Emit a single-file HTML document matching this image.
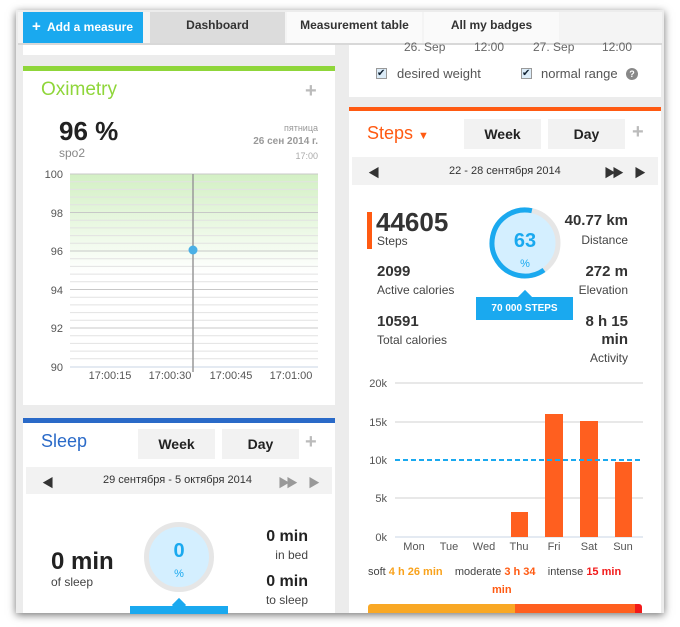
<!DOCTYPE html>
<html><head><meta charset="utf-8"><style>
*{margin:0;padding:0;box-sizing:border-box}
body{width:680px;height:627px;background:#fff;position:relative;overflow:hidden;font-family:"Liberation Sans","Noto Sans CJK SC",sans-serif;color:#333}
.a{position:absolute}
.frame{left:16px;top:10px;width:648px;height:603px;background:#ececec;box-shadow:0 2px 8px rgba(0,0,0,.55);overflow:hidden}
.card{background:#fff}
.btn{background:#f2f2f2;font-weight:bold;font-size:14px;text-align:center;color:#222}
.r{text-align:right}
.nav{font-weight:bold;font-size:12px;line-height:27px;text-align:center;white-space:nowrap}
</style></head><body>
<div class="a frame"></div>
<div class="a" style="left:18px;top:12px;width:644px;height:31px;background:#f4f4f4"></div>
<div class="a" style="left:23px;top:12px;width:120px;height:31px;background:#1aa9ef;color:#fff;font-weight:bold;font-size:12px;line-height:29px;padding-left:9px;white-space:nowrap"><span style="font-size:15px">+</span>&nbsp; Add a measure</div>
<div class="a nav" style="left:150px;top:12px;width:135px;height:31px;background:#dcdcdc">Dashboard</div>
<div class="a nav" style="left:287px;top:12px;width:135px;height:31px;background:#fafafa">Measurement table</div>
<div class="a nav" style="left:424px;top:12px;width:135px;height:31px;background:#fafafa">All my badges</div>
<div class="a" style="left:18px;top:43px;width:644px;height:2px;background:#d8d8d8"></div>

<div class="a card" style="left:23px;top:45px;width:312px;height:10px"></div>
<div class="a" style="left:23px;top:66px;width:312px;height:5px;background:#8fd63a"></div>
<div class="a card" style="left:23px;top:71px;width:312px;height:334px"></div>
<div class="a" style="left:41px;top:79px;font-size:19px;color:#8fd63a">Oximetry</div>
<div class="a" style="left:305px;top:80px;font-size:20px;color:#bbb;font-weight:bold">+</div>
<div class="a" style="left:59px;top:116px;font-size:26px;font-weight:bold;color:#222">96 %</div>
<div class="a" style="left:59px;top:146px;font-size:12px;color:#888">spo2</div>
<div class="a r" style="left:220px;top:123px;width:98px;font-size:9px;color:#999">пятница</div>
<div class="a r" style="left:200px;top:136px;width:118px;font-size:10px;color:#999;font-weight:bold">26 сен 2014 г.</div>
<div class="a r" style="left:220px;top:151px;width:98px;font-size:9px;color:#aaa">17:00</div>
<svg class="a" style="left:23px;top:160px" width="312" height="230">
<defs><linearGradient id="g" x1="0" y1="0" x2="0" y2="1"><stop offset="0" stop-color="#d3f0c4"/><stop offset="1" stop-color="#fff"/></linearGradient></defs>
<rect x="47" y="14" width="248" height="100" fill="url(#g)"/>
<g stroke="#e2e2e2" stroke-width="1">
<line x1="47" x2="295" y1="21.7" y2="21.7"/><line x1="47" x2="295" y1="29.4" y2="29.4"/><line x1="47" x2="295" y1="37.1" y2="37.1"/><line x1="47" x2="295" y1="44.8" y2="44.8"/>
<line x1="47" x2="295" y1="60.2" y2="60.2"/><line x1="47" x2="295" y1="67.9" y2="67.9"/><line x1="47" x2="295" y1="75.6" y2="75.6"/><line x1="47" x2="295" y1="83.3" y2="83.3"/>
<line x1="47" x2="295" y1="98.7" y2="98.7"/><line x1="47" x2="295" y1="106.4" y2="106.4"/><line x1="47" x2="295" y1="114.1" y2="114.1"/><line x1="47" x2="295" y1="121.8" y2="121.8"/>
<line x1="47" x2="295" y1="137.2" y2="137.2"/><line x1="47" x2="295" y1="144.9" y2="144.9"/><line x1="47" x2="295" y1="152.6" y2="152.6"/><line x1="47" x2="295" y1="160.3" y2="160.3"/>
<line x1="47" x2="295" y1="175.7" y2="175.7"/><line x1="47" x2="295" y1="183.4" y2="183.4"/><line x1="47" x2="295" y1="191.1" y2="191.1"/><line x1="47" x2="295" y1="198.8" y2="198.8"/>
</g>
<g stroke="#c8c8c8" stroke-width="1">
<line x1="47" x2="295" y1="14" y2="14"/><line x1="47" x2="295" y1="52.5" y2="52.5"/><line x1="47" x2="295" y1="91" y2="91"/><line x1="47" x2="295" y1="129.5" y2="129.5"/><line x1="47" x2="295" y1="168" y2="168"/></g>
<line x1="47" x2="295" y1="207" y2="207" stroke="#c8d4e4"/>
<line x1="170" x2="170" y1="14" y2="212" stroke="#999" stroke-width="1.5"/>
<circle cx="170" cy="90" r="4.5" fill="#4ab0e6"/>
<g font-size="11" fill="#555" text-anchor="end" font-family="Liberation Sans">
<text x="40" y="18">100</text><text x="40" y="57">98</text><text x="40" y="95">96</text><text x="40" y="134">94</text><text x="40" y="172">92</text><text x="40" y="211">90</text></g>
<g font-size="11" fill="#555" text-anchor="middle" font-family="Liberation Sans">
<text x="87" y="219">17:00:15</text><text x="147" y="219">17:00:30</text><text x="208" y="219">17:00:45</text><text x="268" y="219">17:01:00</text></g>
</svg>

<div class="a" style="left:23px;top:418px;width:312px;height:5px;background:#2a6ac8"></div>
<div class="a card" style="left:23px;top:423px;width:312px;height:190px"></div>
<div class="a" style="left:41px;top:431px;font-size:18px;color:#2a6ac8">Sleep</div>
<div class="a btn" style="left:138px;top:429px;width:77px;height:30px;line-height:30px">Week</div>
<div class="a btn" style="left:222px;top:429px;width:77px;height:30px;line-height:30px">Day</div>
<div class="a" style="left:305px;top:431px;font-size:20px;color:#bbb;font-weight:bold">+</div>
<div class="a" style="left:26px;top:467px;width:306px;height:27px;background:#f2f2f2"></div>
<div class="a" style="left:42px;top:474px;font-size:12px">◀</div>
<div class="a" style="left:103px;top:474px;font-size:11px">29 сентября - 5 октября 2014</div>
<div class="a" style="left:278px;top:474px;font-size:12px;color:#999;letter-spacing:-4px">▶▶</div>
<div class="a" style="left:308px;top:474px;font-size:12px;color:#999">▶</div>
<div class="a" style="left:144px;top:522px;width:70px;height:70px;border-radius:50%;border:5px solid #e6e6e6;background:#d4efff"></div>
<div class="a" style="left:144px;top:540px;width:70px;text-align:center;font-size:20px;font-weight:bold;color:#1aa9ef">0</div>
<div class="a" style="left:144px;top:568px;width:70px;text-align:center;font-size:11px;color:#1aa9ef">%</div>
<div class="a" style="left:174px;top:600px;width:10px;height:10px;background:#1aa9ef;transform:rotate(45deg)"></div>
<div class="a" style="left:130px;top:606px;width:98px;height:8px;background:#1aa9ef"></div>
<div class="a" style="left:51px;top:548px;font-size:24px;font-weight:bold;color:#222">0 min</div>
<div class="a" style="left:51px;top:575px;font-size:12px;color:#444">of sleep</div>
<div class="a r" style="left:230px;top:528px;width:78px;font-size:16px;font-weight:bold;color:#222">0 min</div>
<div class="a r" style="left:230px;top:548px;width:78px;font-size:12px;color:#444">in bed</div>
<div class="a r" style="left:230px;top:573px;width:78px;font-size:16px;font-weight:bold;color:#222">0 min</div>
<div class="a r" style="left:230px;top:593px;width:78px;font-size:12px;color:#444">to sleep</div>

<div class="a card" style="left:349px;top:45px;width:312px;height:52px"></div>
<div class="a" style="left:404px;top:40px;font-size:12px;color:#666">26. Sep</div>
<div class="a" style="left:474px;top:40px;font-size:12px;color:#666">12:00</div>
<div class="a" style="left:533px;top:40px;font-size:12px;color:#666">27. Sep</div>
<div class="a" style="left:602px;top:40px;font-size:12px;color:#666">12:00</div>
<div class="a" style="left:376px;top:68px;width:11px;height:11px;border:1px solid #999;background:#dcecf8;font-size:10px;line-height:9px;color:#123">✔</div>
<div class="a" style="left:397px;top:66px;font-size:13px;color:#555">desired weight</div>
<div class="a" style="left:521px;top:68px;width:11px;height:11px;border:1px solid #999;background:#dcecf8;font-size:10px;line-height:9px;color:#123">✔</div>
<div class="a" style="left:541px;top:66px;font-size:13px;color:#555">normal range</div>
<div class="a" style="left:626px;top:68px;width:12px;height:12px;border-radius:50%;background:#888;color:#fff;font-size:9px;font-weight:bold;text-align:center;line-height:12px">?</div>

<div class="a" style="left:349px;top:107px;width:312px;height:4px;background:#ff5a12"></div>
<div class="a card" style="left:349px;top:111px;width:312px;height:502px"></div>
<div class="a" style="left:367px;top:123px;font-size:18px;color:#ff5a12">Steps <span style="font-size:11px">▼</span></div>
<div class="a btn" style="left:464px;top:119px;width:77px;height:30px;line-height:30px">Week</div>
<div class="a btn" style="left:548px;top:119px;width:77px;height:30px;line-height:30px">Day</div>
<div class="a" style="left:632px;top:121px;font-size:20px;color:#bbb;font-weight:bold">+</div>
<div class="a" style="left:352px;top:157px;width:306px;height:28px;background:#f2f2f2"></div>
<div class="a" style="left:368px;top:164px;font-size:12px">◀</div>
<div class="a" style="left:449px;top:165px;font-size:11px">22 - 28 сентября 2014</div>
<div class="a" style="left:604px;top:164px;font-size:12px;letter-spacing:-4px">▶▶</div>
<div class="a" style="left:634px;top:164px;font-size:12px">▶</div>
<div class="a" style="left:367px;top:212px;width:5px;height:37px;background:#ff5a12"></div>
<div class="a" style="left:376px;top:207px;font-size:26px;font-weight:bold;color:#333">44605</div>
<div class="a" style="left:377px;top:234px;font-size:12px;color:#444">Steps</div>
<div class="a" style="left:377px;top:263px;font-size:15px;font-weight:bold;color:#333">2099</div>
<div class="a" style="left:377px;top:283px;font-size:12px;color:#444">Active calories</div>
<div class="a" style="left:377px;top:313px;font-size:15px;font-weight:bold;color:#333">10591</div>
<div class="a" style="left:377px;top:333px;font-size:12px;color:#444">Total calories</div>
<svg class="a" style="left:485px;top:205px" width="80" height="80">
<circle cx="40" cy="38" r="33" fill="#d4efff" stroke="#e6e6e6" stroke-width="5"/>
<circle cx="40" cy="38" r="33" fill="none" stroke="#1aa9ef" stroke-width="5" stroke-dasharray="130.6 207.3" transform="rotate(-78 40 38) scale(1,-1) translate(0,-76)"/>
</svg>
<div class="a" style="left:485px;top:230px;width:80px;text-align:center;font-size:20px;font-weight:bold;color:#1aa9ef">63</div>
<div class="a" style="left:485px;top:258px;width:80px;text-align:center;font-size:11px;color:#1aa9ef">%</div>
<div class="a" style="left:520px;top:292px;width:10px;height:10px;background:#1aa9ef;transform:rotate(45deg)"></div>
<div class="a" style="left:476px;top:297px;width:97px;height:23px;background:#1aa9ef;color:#fff;font-size:10px;font-weight:bold;text-align:center;line-height:23px">70 000 STEPS</div>
<div class="a r" style="left:540px;top:212px;width:88px;font-size:15px;font-weight:bold;color:#333">40.77 km</div>
<div class="a r" style="left:540px;top:233px;width:88px;font-size:12px;color:#444">Distance</div>
<div class="a r" style="left:540px;top:263px;width:88px;font-size:15px;font-weight:bold;color:#333">272 m</div>
<div class="a r" style="left:540px;top:283px;width:88px;font-size:12px;color:#444">Elevation</div>
<div class="a r" style="left:540px;top:313px;width:88px;font-size:15px;font-weight:bold;color:#333;line-height:18px">8 h 15<br>min</div>
<div class="a r" style="left:540px;top:351px;width:88px;font-size:12px;color:#444">Activity</div>
<svg class="a" style="left:349px;top:370px" width="312" height="190">
<g stroke="#d0d0d0" stroke-width="1"><line x1="46" x2="294" y1="13" y2="13"/><line x1="46" x2="294" y1="52" y2="52"/><line x1="46" x2="294" y1="128" y2="128"/></g>
<line x1="46" x2="294" y1="167" y2="167" stroke="#c8d4e4"/>
<rect x="162" y="142" width="17" height="25" fill="#ff5f1f"/>
<rect x="196" y="44" width="18" height="123" fill="#ff5f1f"/>
<rect x="231" y="51" width="18" height="116" fill="#ff5f1f"/>
<rect x="266" y="92" width="17" height="75" fill="#ff5f1f"/>
<line x1="46" x2="294" y1="90" y2="90" stroke="#1aa9ef" stroke-width="2" stroke-dasharray="5 3"/>
<g font-size="11" fill="#555" text-anchor="end" font-family="Liberation Sans"><text x="38" y="17">20k</text><text x="38" y="56">15k</text><text x="38" y="94">10k</text><text x="38" y="132">5k</text><text x="38" y="171">0k</text></g>
<g font-size="11" fill="#555" text-anchor="middle" font-family="Liberation Sans"><text x="65" y="180">Mon</text><text x="100" y="180">Tue</text><text x="135" y="180">Wed</text><text x="170" y="180">Thu</text><text x="205" y="180">Fri</text><text x="240" y="180">Sat</text><text x="274" y="180">Sun</text></g>
</svg>
<div class="a" style="left:368px;top:566px;font-size:11px;color:#444;white-space:nowrap">soft <b style="color:#f9a21b">4 h 26 min</b>&nbsp;&nbsp;&nbsp; moderate <b style="color:#ff5a12">3 h 34</b>&nbsp;&nbsp;&nbsp; intense <b style="color:#f21a1a">15 min</b></div>
<div class="a" style="left:492px;top:584px;font-size:11px;font-weight:bold;color:#ff5a12">min</div>
<div class="a" style="left:368px;top:604px;width:147px;height:9px;background:#f9a825;border-radius:3px 0 0 0"></div>
<div class="a" style="left:515px;top:604px;width:120px;height:9px;background:#ff5f1f"></div>
<div class="a" style="left:635px;top:604px;width:7px;height:9px;background:#f21a1a;border-radius:0 3px 0 0"></div>
</body></html>
